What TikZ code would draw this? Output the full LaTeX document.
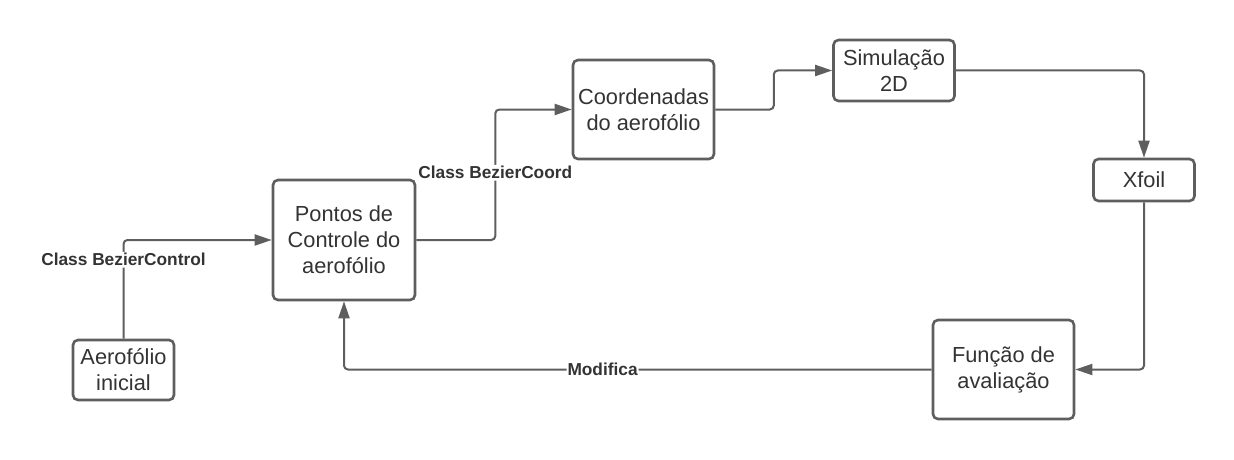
\documentclass[tikz,border=0pt]{standalone}
\usepackage{fontspec}
\setmainfont{Liberation Sans}
\usepackage{xcolor}
\usepackage{tikz}
\usetikzlibrary{positioning,arrows.meta}

\definecolor{linegray}{RGB}{94,94,94}
\definecolor{textgray}{RGB}{51,51,51}

\begin{document}
\begin{tikzpicture}[x=1pt,y=-1pt,>={Triangle[length=17pt,width=11pt]},
	box/.style={draw=linegray,line width=2.6pt,rounded corners=5pt,text=textgray,align=center,inner sep=0pt,font=\fontsize{21.8}{26}\selectfont},
	conn/.style={->,draw=linegray,line width=2pt,rounded corners=4pt},
	lbl/.style={fill=white,text=textgray,inner sep=1.5pt,font=\fontsize{17.3}{20}\selectfont\bfseries}]

	\useasboundingbox (0,0) rectangle (1234,460);

	% The blocks
	\node [box,minimum width=101pt,minimum height=60pt] at (123.5,370) (ini) {Aerofólio\\inicial};
	\node [box,minimum width=142pt,minimum height=120pt] at (344,240) (pcd) {Pontos de\\Controle do\\aerofólio};
	\node [box,minimum width=141pt,minimum height=99pt] at (643.5,109.5) (coord) {Coordenadas\\do aerofólio};
	\node [box,minimum width=121pt,minimum height=61pt] at (894,70.5) (sim) {Simulação\\2D};
	\node [box,minimum width=101pt,minimum height=42pt] at (1144,180) (xfoil) {Xfoil};
	\node [box,minimum width=141pt,minimum height=99pt] at (1003.5,369.5) (aval) {Função de\\avaliação};

	% Connectors
	\draw[conn] (ini.north) |- node[lbl,pos=0.4] (ctl) {Class BezierControl} (pcd.west);
	\draw[conn] (pcd.east) -- ++(79,0) |- node[lbl,pos=0.258] (crd) {Class BezierCoord} (coord.west);
	\draw[conn] (coord.east) -- ++(58.5,0) |- (sim.west);
	\draw[conn] (sim.east) -| (xfoil.north);
	\draw[conn] (xfoil.south) |- (aval.east);
	\draw[conn] (aval.west) -| node[lbl,pos=0.28,inner sep=1pt] (mod) {Modifica} (pcd.south);

\end{tikzpicture}
\end{document}
